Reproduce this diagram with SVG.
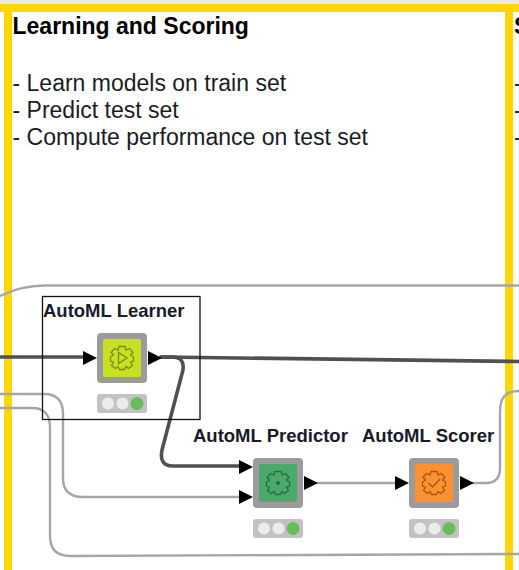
<svg xmlns="http://www.w3.org/2000/svg" width="519" height="570" viewBox="0 0 519 570">
<style>
text{font-family:"Liberation Sans",Arial,sans-serif;fill:#1c1c24}
.t{font-size:23px}
.h{font-size:23px;font-weight:bold;fill:#000}
.l{font-size:18.5px;font-weight:bold;fill:#1a1a2a}
.c{fill:none;stroke-linecap:round}
.thick{stroke:#505050;stroke-width:3.6}
.thin{stroke:#a6a6a6;stroke-width:2.4}
.frame{fill:#9b9b9b}
.gear{fill:none;stroke:#000;stroke-opacity:.38;stroke-width:1.3}
.st{fill:#c2c2c2}
.off{fill:#ececec}
.on{fill:#68bd5a}
.tri{fill:#000}
</style>
<defs>
<path id="g" class="gear" d="M-3-11.500H3L4-8L7.500-9.500L11-5.500L8.500-3L11.500-1V3L8.500 4L10.500 7.500L6.500 10.500L4 8.500L2.500 11.500H-2.500L-4 8.500L-6.500 10.500L-10.500 7.500L-8.500 4L-11.500 3V-1L-8.500-3L-11-5.500L-7.500-9.500L-4-8Z"/>
<g id="status"><rect class="st" x="0" y="0" width="50" height="19" rx="3"/><circle class="off" cx="11" cy="9.500" r="6"/><circle class="off" cx="25.500" cy="9.500" r="6"/><circle class="on" cx="40" cy="9.500" r="6.500"/></g>
<path id="tri" class="tri" d="M0-7L14 0L0 7Z"/>
</defs>
<rect width="519" height="570" fill="#fff"/>
<g id="annotation">
<rect x="0" y="0" width="519" height="4" fill="#e8e8e8"/>
<rect x="0" y="4" width="519" height="8" fill="#ffd700"/>
<rect x="4" y="4" width="8" height="566" fill="#ffd700"/>
<rect x="505" y="4" width="8" height="566" fill="#ffd700"/>
<text class="h" x="12.500" y="34">Learning and Scoring</text>
<text class="t" x="12.500" y="91">- Learn models on train set</text>
<text class="t" x="12.500" y="118">- Predict test set</text>
<text class="t" x="12.500" y="145">- Compute performance on test set</text>
<text class="h" x="514" y="34">S</text>
<text class="t" x="514" y="91">-</text>
<text class="t" x="514" y="118">-</text>
<text class="t" x="514" y="145">-</text>
</g>
<g id="connectors">
<path class="c thin" d="M0 296C16 289 28 285.500 45 285.500H519"/>
<path class="c thin" d="M0 394H44C57 394 63 401 63 414V478C63 491 70 497 83 497H240"/>
<path class="c thin" d="M0 408H32C45 408 50 415 50 428V536C50 549 57 556 70 556L519 554"/>
<path class="c thin" d="M317 483H396"/>
<path class="c thin" d="M473 483H486C495 483 500 478 500 468V412C500 398 505 391 519 391"/>
<path class="c thick" d="M0 357H84"/>
<path class="c thick" d="M161 357L519 361.500"/>
<path class="c thick" d="M161 357H172C181 357 184 362 183 370L162 450C160 460 163 466 173 466H240"/>
</g>
<rect id="selection" x="42.500" y="296.500" width="157.500" height="123" fill="none" stroke="#111" stroke-width="1.300"/>
<g id="learner" transform="translate(97,333)">
<text class="l" x="-54" y="-16.500">AutoML Learner</text>
<rect class="frame" width="50" height="50" rx="4"/>
<rect x="6" y="6" width="38" height="38" rx="2" fill="#c8e023"/>
<use href="#g" x="25" y="25"/>
<path class="gear" d="M21.500 19.500L30 25L21.500 30.500Z"/>
<use href="#tri" x="-14" y="25"/><use href="#tri" x="51" y="25"/>
<use href="#status" y="61"/>
</g>
<g id="predictor" transform="translate(253,458)">
<text class="l" x="-60" y="-16">AutoML Predictor</text>
<rect class="frame" width="50" height="50" rx="4"/>
<rect x="6" y="6" width="38" height="38" rx="2" fill="#4aaa6c"/>
<use href="#g" x="25" y="25"/>
<circle cx="25" cy="25" r="2" fill="#000" fill-opacity=".4"/>
<use href="#tri" x="-14" y="9"/><use href="#tri" x="-14" y="39"/><use href="#tri" x="51" y="25"/>
<use href="#status" y="61"/>
</g>
<g id="scorer" transform="translate(409,458)">
<text class="l" x="-47" y="-16">AutoML Scorer</text>
<rect class="frame" width="50" height="50" rx="4"/>
<rect x="6" y="6" width="38" height="38" rx="2" fill="#ff9030"/>
<use href="#g" x="25" y="25"/>
<path class="gear" d="M19.500 25L23.500 29L31 21"/>
<use href="#tri" x="-14" y="25"/><use href="#tri" x="51" y="25"/>
<use href="#status" y="61"/>
</g>
</svg>
